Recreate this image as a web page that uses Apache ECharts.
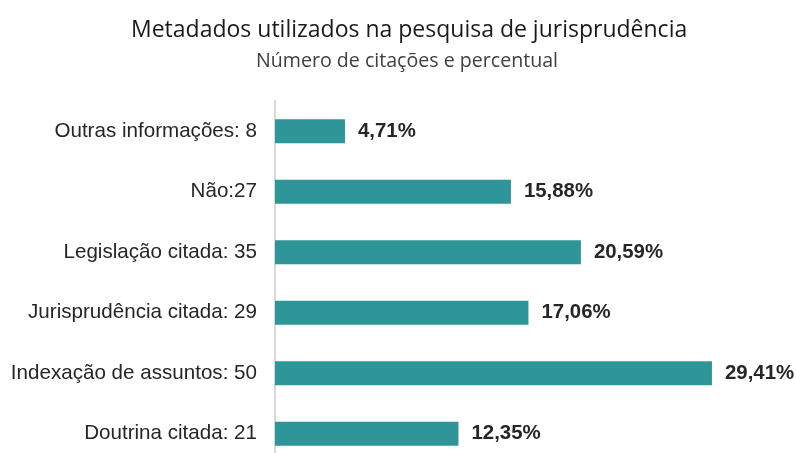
<!DOCTYPE html>
<html>
<head>
<meta charset="utf-8">
<script src="https://cdn.jsdelivr.net/npm/echarts@6/dist/echarts.min.js"></script>
<style>
  html, body { margin: 0; padding: 0; background: #ffffff; overflow: hidden; }
  /* the plot area runs a little past the lower edge of the window */
  #chart { width: 796px; height: 480px; }
</style>
</head>
<body>
<div id="chart"></div>
<script>
// Categories listed bottom to top, as they appear on the category axis
const categories = [
  'Doutrina citada: 21',
  'Indexação de assuntos: 50',
  'Jurisprudência citada: 29',
  'Legislação citada: 35',
  'Não:27',
  'Outras informações: 8'
];
// Share of citations, in percent
const percentages = [12.35, 29.41, 17.06, 20.59, 15.88, 4.71];

const chart = echarts.init(document.getElementById('chart'));

chart.setOption({
  animation: false,
  backgroundColor: '#ffffff',
  title: [{
    text: 'Metadados utilizados na pesquisa de jurisprudência',
    left: 131,
    top: 19,
    padding: 0,
    textStyle: {
      fontFamily: 'Open Sans',
      fontSize: 23,
      fontWeight: 'normal',
      color: '#1a1a1a'
    }
  }, {
    text: 'Número de citações e percentual',
    left: 256,
    top: 51,
    padding: 0,
    textStyle: {
      fontFamily: 'Open Sans',
      fontSize: 19.6,
      fontWeight: 'normal',
      color: '#404040'
    }
  }],
  grid: {
    left: 275,
    top: 101,
    width: 520,
    height: 363,
    containLabel: false
  },
  xAxis: {
    type: 'value',
    min: 0,
    max: 35,
    show: false
  },
  yAxis: {
    type: 'category',
    data: categories,
    axisLine: { show: true, lineStyle: { color: '#d9d9d9', width: 2 } },
    axisTick: { show: false },
    axisLabel: {
      margin: 18,
      fontFamily: 'Liberation Sans, Arial, sans-serif',
      fontSize: 20.6,
      color: '#262626'
    }
  },
  series: [{
    type: 'bar',
    data: percentages,
    barWidth: 24,
    itemStyle: { color: '#2e9598' },
    label: {
      show: true,
      position: 'right',
      distance: 13,
      fontFamily: 'Liberation Sans, Arial, sans-serif',
      fontSize: 20.4,
      fontWeight: 'bold',
      color: '#262626',
      formatter: p => p.value.toFixed(2).replace('.', ',') + '%'
    }
  }]
});
</script>
</body>
</html>
